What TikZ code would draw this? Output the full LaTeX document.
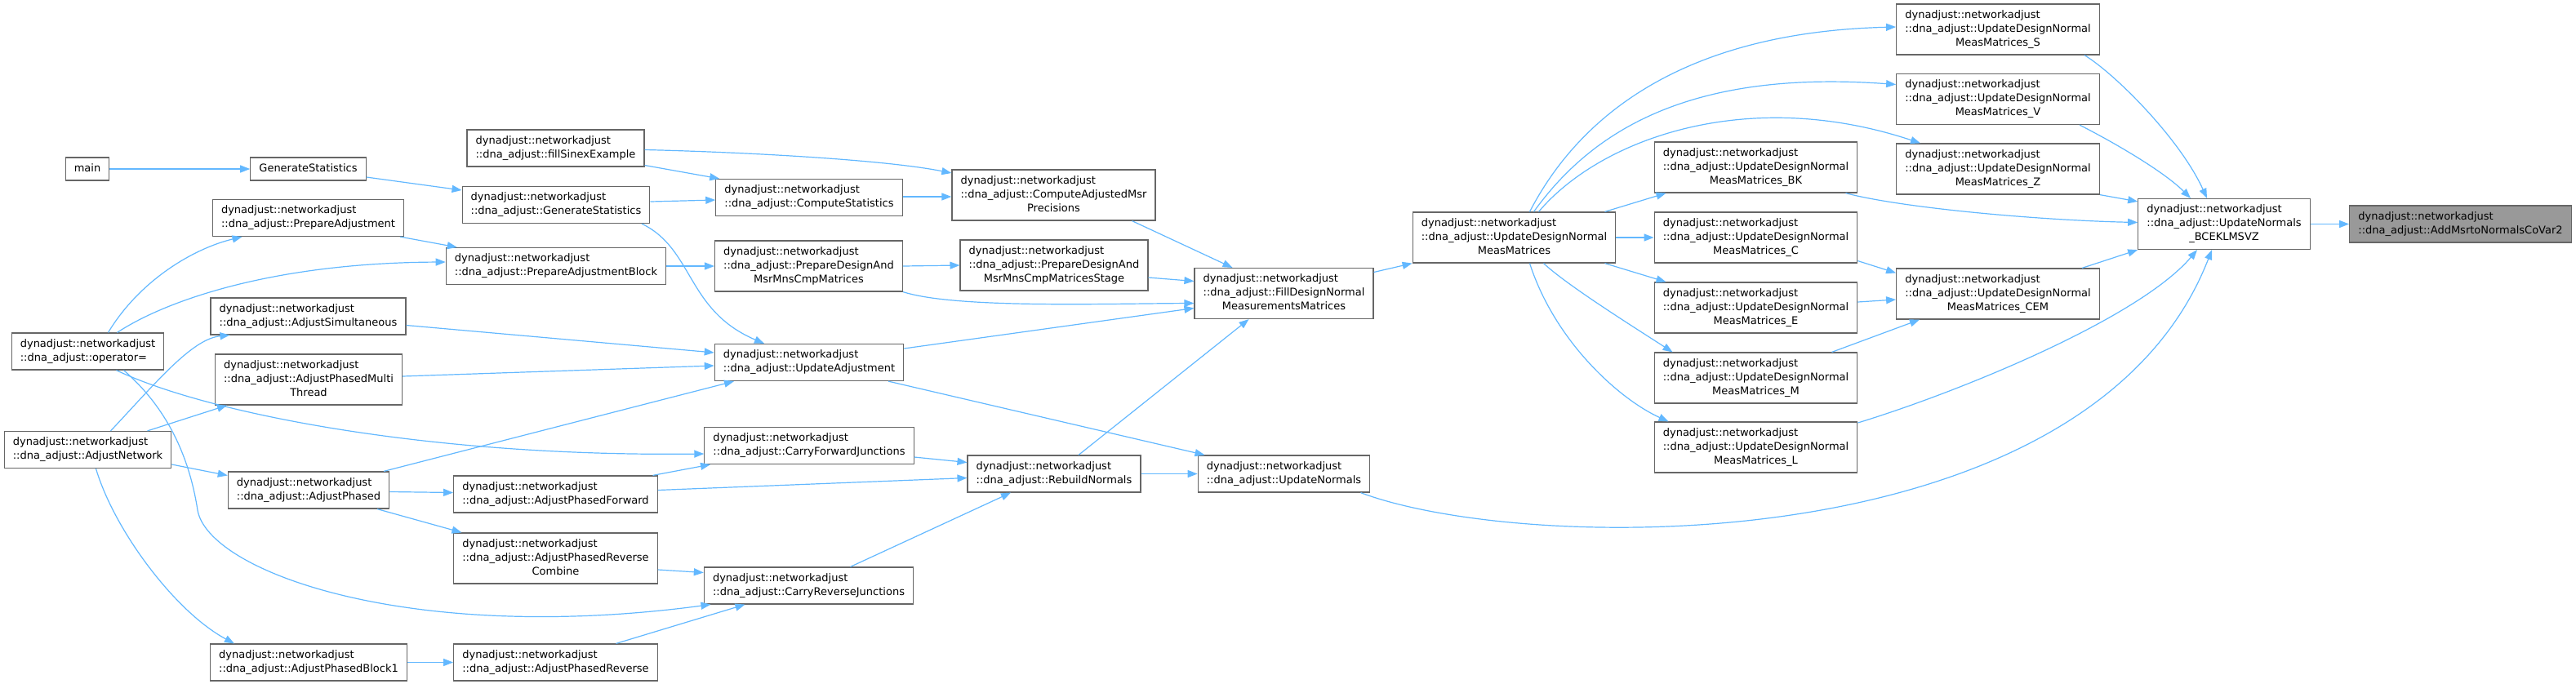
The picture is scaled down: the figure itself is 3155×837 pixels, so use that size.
\documentclass[tikz,border=0pt]{standalone}
\usepackage{fontspec}
\setmainfont{DejaVu Sans}
\usetikzlibrary{arrows.meta}
\definecolor{edgeblue}{HTML}{63B8FF}
\definecolor{boxgray}{HTML}{666666}
\definecolor{rootfill}{HTML}{999999}
\newcommand{\fna}[1]{\begin{tabular}{@{}l@{}}#1\end{tabular}}
\newcommand{\fnb}[1]{\begin{tabular}{@{}l@{}}dynadjust::networkadjust\\::dna\_adjust::#1\end{tabular}}
\newcommand{\fnc}[2]{\begin{tabular}{@{}l@{}}dynadjust::networkadjust\\::dna\_adjust::#1\\\multicolumn{1}{@{}c@{}}{#2}\end{tabular}}

\begin{document}
\begin{tikzpicture}[x=0.5pt,y=-0.5pt,
  fn/.style={draw=boxgray,line width=0.6pt,fill=white,inner xsep=5.3pt,inner ysep=2.75pt,font=\fontsize{6.5}{8.5}\selectfont},
  root/.style={fn,fill=rootfill},
  call/.style={draw=edgeblue,line width=0.6pt,-{Triangle[length=6pt,width=4.5pt]}}]
\useasboundingbox (0,0) rectangle (3155,837);
\node[fn] (main) at (107,207) {\fna{main}};
\node[fn] (gs) at (377.5,207) {\fna{GenerateStatistics}};
\node[fn] (pa) at (377.5,267) {\fnb{PrepareAdjustment}};
\node[fn] (op) at (107.5,430.5) {\fnb{operator=}};
\node[fn] (an) at (107.5,551) {\fnb{AdjustNetwork}};
\node[fn] (as) at (377.5,387.5) {\fnb{AdjustSimultaneous}};
\node[fn] (apmt) at (378,465) {\fnc{AdjustPhasedMulti}{Thread}};
\node[fn] (ap) at (378,600.5) {\fnb{AdjustPhased}};
\node[fn] (apb1) at (378,811.5) {\fnb{AdjustPhasedBlock1}};
\node[fn] (fse) at (680.5,181.5) {\fnb{fillSinexExample}};
\node[fn] (gsf) at (681,251) {\fnb{GenerateStatistics}};
\node[fn] (pab) at (681,326) {\fnb{PrepareAdjustmentBlock}};
\node[fn] (apf) at (680.5,605.5) {\fnb{AdjustPhasedForward}};
\node[fn] (aprc) at (680.5,684) {\fnc{AdjustPhasedReverse}{Combine}};
\node[fn] (apr) at (680.5,811.5) {\fnb{AdjustPhasedReverse}};
\node[fn] (cs) at (991,242) {\fnb{ComputeStatistics}};
\node[fn] (pdm) at (990.5,326) {\fnc{PrepareDesignAnd}{MsrMnsCmpMatrices}};
\node[fn] (ua) at (991,444) {\fnb{UpdateAdjustment}};
\node[fn] (cfj) at (991,546) {\fnb{CarryForwardJunctions}};
\node[fn] (crj) at (990.5,717.5) {\fnb{CarryReverseJunctions}};
\node[fn] (camp) at (1290.5,239) {\fnc{ComputeAdjustedMsr}{Precisions}};
\node[fn] (pdms) at (1291,325) {\fnc{PrepareDesignAnd}{MsrMnsCmpMatricesStage}};
\node[fn] (rn) at (1291,580.5) {\fnb{RebuildNormals}};
\node[fn] (fdn) at (1572.5,359.5) {\fnc{FillDesignNormal}{MeasurementsMatrices}};
\node[fn] (un) at (1572.5,580.5) {\fnb{UpdateNormals}};
\node[fn] (udn) at (1854.5,291) {\fnc{UpdateDesignNormal}{MeasMatrices}};
\node[fn] (udnbk) at (2150.5,205) {\fnc{UpdateDesignNormal}{MeasMatrices\_BK}};
\node[fn] (udnc) at (2150.5,291) {\fnc{UpdateDesignNormal}{MeasMatrices\_C}};
\node[fn] (udne) at (2150.5,377) {\fnc{UpdateDesignNormal}{MeasMatrices\_E}};
\node[fn] (udnm) at (2150.5,463) {\fnc{UpdateDesignNormal}{MeasMatrices\_M}};
\node[fn] (udnl) at (2150.5,548) {\fnc{UpdateDesignNormal}{MeasMatrices\_L}};
\node[fn] (udns) at (2447,36) {\fnc{UpdateDesignNormal}{MeasMatrices\_S}};
\node[fn] (udnv) at (2447,121.5) {\fnc{UpdateDesignNormal}{MeasMatrices\_V}};
\node[fn] (udnz) at (2447,207) {\fnc{UpdateDesignNormal}{MeasMatrices\_Z}};
\node[fn] (udncem) at (2447,360) {\fnc{UpdateDesignNormal}{MeasMatrices\_CEM}};
\node[fn] (unb) at (2724,274.5) {\fnc{UpdateNormals}{\_BCEKLMSVZ}};
\node[root] (root) at (3013.5,274.5) {\fnb{AddMsrtoNormalsCoVar2}};
\draw[call] (main.east) -- (gs.west);
\draw[call] ([shift={(0,10)}]gs.east) -- ([shift={(0,-18)}]gsf.west);
\draw[call] ([shift={(-5,0)}]pa.south east) -- ([shift={(14,0)}]pab.north west);
\draw[call] ([shift={(25,0)}]op.north) .. controls (170,345) and (235,305) .. ([shift={(-81,0)}]pa.south);
\draw[call] ([shift={(36,0)}]op.north) .. controls (200,370) and (330,322) .. ([shift={(0,-5)}]pab.west);
\draw[call] ([shift={(28,0)}]an.north) .. controls (190,470) and (235,415) .. ([shift={(-96,0)}]as.south);
\draw[call] ([shift={(73,0)}]an.north) -- ([shift={(-100,0)}]apmt.south);
\draw[call] ([shift={(0,18)}]an.east) -- ([shift={(0,-18)}]ap.west);
\draw[call] ([shift={(10,0)}]an.south) .. controls (140,650) and (215,750) .. ([shift={(-91,0)}]apb1.north);
\draw[call] ([shift={(35,0)}]op.south) .. controls (250,505) and (520,560) .. ([shift={(0,10)}]cfj.west);
\draw[call] ([shift={(44,0)}]op.south) .. controls (205,500) and (232,560) .. (242,625) .. controls (255,700) and (500,790) .. ([shift={(-120,0)}]crj.south);
\draw[call] ([shift={(0,11)}]as.east) -- ([shift={(0,-12)}]ua.west);
\draw[call] ([shift={(0,-4)}]apmt.east) -- ([shift={(0,4)}]ua.west);
\draw[call] ([shift={(92,0)}]ap.north) -- ([shift={(-92,0)}]ua.south);
\draw[call] ([shift={(0,2)}]ap.east) -- ([shift={(0,-2)}]apf.west);
\draw[call] ([shift={(84,0)}]ap.south) -- ([shift={(-115,0)}]aprc.north);
\draw[call] ([shift={(119,0)}]apf.north) -- ([shift={(-121,0)}]cfj.south);
\draw[call] ([shift={(0,-5)}]apf.east) -- ([shift={(0,5)}]rn.west);
\draw[call] ([shift={(0,14)}]aprc.east) -- ([shift={(0,-16)}]crj.west);
\draw[call] (apb1.east) -- (apr.west);
\draw[call] ([shift={(74,0)}]apr.north) -- ([shift={(-78,0)}]crj.south);
\draw[call] ([shift={(105,0)}]gsf.south) .. controls (850,305) and (840,380) .. ([shift={(-55,0)}]ua.north);
\draw[call] ([shift={(0,-4)}]gsf.east) -- ([shift={(0,3)}]cs.west);
\draw[call] ([shift={(0,21)}]fse.east) -- ([shift={(5,0)}]cs.north west);
\draw[call] ([shift={(0,2)}]fse.east) .. controls (900,186) and (1080,195) .. ([shift={(0,-27)}]camp.west);
\draw[call] (pab.east) -- (pdm.west);
\draw[call] ([shift={(0,-1)}]cs.east) -- ([shift={(0,2)}]camp.west);
\draw[call] (pdm.east) -- (pdms.west);
\draw[call] (pdm.south east) .. controls (1170,378) and (1350,372) .. ([shift={(0,12)}]fdn.west);
\draw[call] ([shift={(0,15)}]pdms.east) -- ([shift={(0,-15)}]fdn.west);
\draw[call] ([shift={(96,0)}]camp.south) -- ([shift={(-63,0)}]fdn.north);
\draw[call] ([shift={(0,-17)}]ua.east) -- ([shift={(0,18)}]fdn.west);
\draw[call] ([shift={(97,0)}]ua.south) -- ([shift={(-97,0)}]un.north);
\draw[call] ([shift={(0,14)}]cfj.east) -- ([shift={(0,-14)}]rn.west);
\draw[call] ([shift={(51,0)}]crj.north) -- ([shift={(-53,0)}]rn.south);
\draw[call] ([shift={(30,0)}]rn.north) -- ([shift={(-43,0)}]fdn.south);
\draw[call] (rn.east) -- (un.west);
\draw[call] ([shift={(0,-26)}]fdn.east) -- (udn.south west);
\draw[call] ([shift={(111,0)}]udn.north) -- ([shift={(-110,0)}]udnbk.south);
\draw[call] (udn.east) -- (udnc.west);
\draw[call] ([shift={(111,0)}]udn.south) -- ([shift={(-110,0)}]udne.north);
\draw[call] ([shift={(36,0)}]udn.south) .. controls (1920,350) and (2000,400) .. ([shift={(-102,0)}]udnm.north);
\draw[call] ([shift={(19,0)}]udn.south) .. controls (1905,420) and (1985,490) .. ([shift={(-107,0)}]udnl.north);
\draw[call] ([shift={(19,0)}]udn.north) .. controls (1925,160) and (2040,40) .. ([shift={(0,-3)}]udns.west);
\draw[call] ([shift={(24,0)}]udn.north) .. controls (1950,160) and (2070,85) .. ([shift={(0,-18)}]udnv.west);
\draw[call] ([shift={(30,0)}]udn.north) .. controls (1960,170) and (2140,105) .. ([shift={(-95,0)}]udnz.north);
\draw[call] ([shift={(110,0)}]udnbk.south) .. controls (2330,255) and (2500,270) .. ([shift={(0,-2)}]unb.west);
\draw[call] ([shift={(0,-3)}]udnc.south east) -- ([shift={(0,6)}]udncem.north west);
\draw[call] ([shift={(0,-7)}]udne.east) -- ([shift={(0,7)}]udncem.west);
\draw[call] ([shift={(93,0)}]udnm.north) -- ([shift={(-96,0)}]udncem.south);
\draw[call] ([shift={(0,-30)}]udnl.east) .. controls (2400,480) and (2620,390) .. ([shift={(-33,0)}]unb.south);
\draw[call] ([shift={(94,0)}]un.south) .. controls (1870,680) and (2560,690) .. ([shift={(-15,0)}]unb.south);
\draw[call] ([shift={(106,0)}]udns.south) .. controls (2590,90) and (2670,170) .. ([shift={(-21,0)}]unb.north);
\draw[call] ([shift={(100,0)}]udnv.south) .. controls (2590,175) and (2650,210) .. ([shift={(-41,0)}]unb.north);
\draw[call] (udnz.south east) -- ([shift={(0,4)}]unb.north west);
\draw[call] ([shift={(103,0)}]udncem.north) -- (unb.south west);
\draw[call] (unb.east) -- (root.west);
\end{tikzpicture}
\end{document}
